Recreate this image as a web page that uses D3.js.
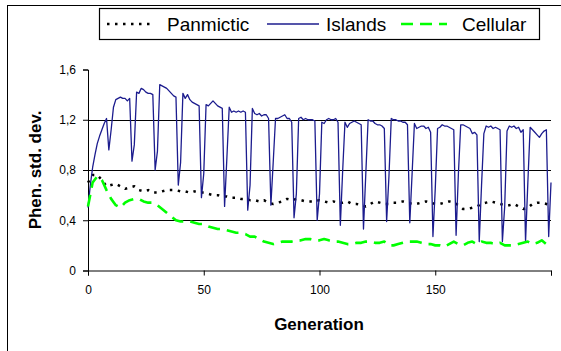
<!DOCTYPE html>
<html>
<head>
<meta charset="utf-8">
<script src="https://cdn.jsdelivr.net/npm/d3@7"></script>
<style>
  html, body { margin: 0; padding: 0; background: #fff; }
  svg { display: block; font-family: Arial, "Liberation Sans", sans-serif; }
</style>
</head>
<body>
<svg id="chart" width="561" height="351"></svg>
<script>
// Series names as shown in the legend
const seriesNames = ['Panmictic', 'Islands', 'Cellular'];

// Islands: one value per generation 0..200
const islandsValues = [
  0.50, 0.68, 0.82, 0.92, 1.01, 1.07, 1.12, 1.17, 1.21, 0.96,
  1.12, 1.30, 1.36, 1.37, 1.38, 1.37, 1.37, 1.35, 1.37, 0.87,
  1.00, 1.42, 1.41, 1.45, 1.44, 1.42, 1.41, 1.41, 1.40, 0.80,
  0.95, 1.48, 1.47, 1.46, 1.45, 1.43, 1.41, 1.39, 1.38, 0.68,
  0.86, 1.41, 1.37, 1.40, 1.36, 1.34, 1.33, 1.32, 1.31, 0.58,
  0.77, 1.32, 1.31, 1.33, 1.35, 1.33, 1.31, 1.30, 1.29, 0.51,
  0.90, 1.30, 1.26, 1.27, 1.26, 1.27, 1.26, 1.27, 1.26, 0.48,
  0.68, 1.29, 1.25, 1.24, 1.25, 1.23, 1.24, 1.24, 1.21, 0.52,
  0.86, 1.21, 1.21, 1.22, 1.23, 1.24, 1.21, 1.21, 1.18, 0.42,
  0.61, 1.21, 1.22, 1.20, 1.21, 1.20, 1.20, 1.20, 1.19, 0.40,
  0.61, 1.18, 1.17, 1.20, 1.21, 1.20, 1.20, 1.21, 1.18, 0.36,
  0.79, 1.18, 1.14, 1.17, 1.18, 1.19, 1.18, 1.17, 1.16, 0.33,
  0.77, 1.20, 1.19, 1.19, 1.17, 1.16, 1.16, 1.15, 1.13, 0.39,
  0.75, 1.21, 1.20, 1.20, 1.19, 1.19, 1.18, 1.18, 1.16, 0.38,
  0.77, 1.17, 1.13, 1.14, 1.15, 1.15, 1.13, 1.14, 1.10, 0.27,
  0.65, 1.13, 1.14, 1.16, 1.15, 1.15, 1.14, 1.13, 1.12, 0.28,
  0.77, 1.16, 1.16, 1.15, 1.14, 1.13, 1.09, 1.10, 1.08, 0.23,
  0.68, 1.09, 1.15, 1.14, 1.15, 1.13, 1.14, 1.13, 1.12, 0.23,
  0.51, 1.11, 1.15, 1.14, 1.15, 1.13, 1.14, 1.10, 1.12, 0.23,
  0.70, 1.14, 1.12, 1.10, 1.08, 1.06, 1.09, 1.11, 1.12, 0.27,
  0.70
];

// Panmictic and Cellular: read every second generation 0, 2, ..., 200
const panmicticValues = [
  0.70, 0.76, 0.76, 0.72, 0.67, 0.68, 0.69, 0.67, 0.65, 0.66,
  0.67, 0.64, 0.63, 0.64, 0.62, 0.62, 0.63, 0.64, 0.64, 0.64,
  0.63, 0.63, 0.62, 0.63, 0.62, 0.62, 0.61, 0.60, 0.60, 0.59,
  0.59, 0.58, 0.58, 0.57, 0.57, 0.56, 0.56, 0.55, 0.56, 0.54,
  0.53, 0.54, 0.55, 0.57, 0.56, 0.57, 0.56, 0.55, 0.55, 0.55,
  0.56, 0.55, 0.54, 0.55, 0.54, 0.54, 0.55, 0.53, 0.53, 0.52,
  0.51, 0.53, 0.55, 0.54, 0.53, 0.53, 0.54, 0.54, 0.55, 0.54,
  0.53, 0.53, 0.54, 0.55, 0.54, 0.53, 0.53, 0.54, 0.55, 0.54,
  0.52, 0.49, 0.49, 0.50, 0.51, 0.53, 0.54, 0.55, 0.54, 0.53,
  0.52, 0.52, 0.53, 0.51, 0.49, 0.50, 0.53, 0.54, 0.54, 0.53,
  0.52
];

const cellularValues = [
  0.51, 0.70, 0.75, 0.72, 0.64, 0.57, 0.52, 0.50, 0.54, 0.56,
  0.57, 0.57, 0.55, 0.54, 0.54, 0.52, 0.49, 0.46, 0.43, 0.40,
  0.39, 0.39, 0.39, 0.38, 0.37, 0.37, 0.35, 0.34, 0.33, 0.33,
  0.32, 0.31, 0.30, 0.30, 0.29, 0.27, 0.27, 0.25, 0.23, 0.22,
  0.21, 0.22, 0.23, 0.23, 0.23, 0.24, 0.24, 0.25, 0.25, 0.24,
  0.24, 0.25, 0.24, 0.23, 0.23, 0.22, 0.21, 0.21, 0.22, 0.22,
  0.23, 0.23, 0.22, 0.22, 0.23, 0.20, 0.20, 0.21, 0.22, 0.23,
  0.23, 0.23, 0.22, 0.21, 0.21, 0.20, 0.20, 0.19, 0.21, 0.23,
  0.21, 0.20, 0.22, 0.23, 0.21, 0.23, 0.22, 0.22, 0.21, 0.22,
  0.20, 0.20, 0.20, 0.21, 0.22, 0.23, 0.21, 0.22, 0.24, 0.21,
  0.24
];

const xTicks = [0, 50, 100, 150, 200];
const xTickLabels = ['0', '50', '100', '150', ''];
const yTicks = [0, 0.4, 0.8, 1.2, 1.6];
const yTickLabels = ['0', '0,4', '0,8', '1,2', '1,6'];
const gridValues = [0.4, 0.8, 1.2];

const svg = d3.select('#chart');

// outer chart frame (runs off the right and bottom edges like the source)
svg.append('rect')
  .attr('x', 7.5).attr('y', 5.5)
  .attr('width', 600).attr('height', 400)
  .attr('fill', 'none').attr('stroke', '#000').attr('stroke-width', 1);

const plot = { left: 88, right: 551, top: 69.5, bottom: 270.5 };

const x = d3.scaleLinear().domain([0, 200]).range([plot.left, plot.right]);
const y = d3.scaleLinear().domain([0, 1.6]).range([plot.bottom, plot.top]);

// gridlines
svg.append('g')
  .selectAll('line')
  .data(gridValues)
  .join('line')
  .attr('x1', plot.left).attr('x2', plot.right)
  .attr('y1', (d) => Math.round(y(d)) + 0.5)
  .attr('y2', (d) => Math.round(y(d)) + 0.5)
  .attr('stroke', '#000').attr('stroke-width', 1);

// axes
const xAxis = d3.axisBottom(x)
  .tickValues(xTicks)
  .tickSize(5)
  .tickPadding(10)
  .tickFormat((d, i) => xTickLabels[i]);
const gx = svg.append('g')
  .attr('transform', `translate(0, ${plot.bottom})`)
  .call(xAxis);

const yAxis = d3.axisLeft(y)
  .tickValues(yTicks)
  .tickSize(5)
  .tickPadding(7)
  .tickFormat((d, i) => yTickLabels[i]);
const gy = svg.append('g')
  .attr('transform', `translate(${plot.left}, 0)`)
  .call(yAxis);

[gx, gy].forEach((g) => {
  g.select('.domain').attr('stroke', '#000');
  g.selectAll('.tick line').attr('stroke', '#000');
  g.selectAll('.tick text')
    .attr('fill', '#000')
    .style('font-size', '12px')
    .style('font-family', 'Arial, "Liberation Sans", sans-serif');
});

// series lines
const step2 = (vals) => vals.map((v, i) => [i * 2, v]);
const step1 = (vals) => vals.map((v, i) => [i, v]);
const line = d3.line().x((d) => x(d[0])).y((d) => y(d[1]));

const series = [
  { name: seriesNames[0], pts: step2(panmicticValues), color: '#000', width: 2.5, dash: '2.5,5.5' },
  { name: seriesNames[1], pts: step1(islandsValues), color: '#1c1c8e', width: 1.3, dash: null },
  { name: seriesNames[2], pts: step2(cellularValues), color: '#00ff00', width: 2.6, dash: '12,7' }
];

series.forEach((s) => {
  svg.append('path')
    .datum(s.pts)
    .attr('d', line)
    .attr('fill', 'none')
    .attr('stroke', s.color)
    .attr('stroke-width', s.width)
    .attr('stroke-dasharray', s.dash)
    .attr('stroke-linejoin', 'round');
});

// axis titles
svg.append('text')
  .attr('transform', 'translate(41, 170) rotate(-90)')
  .attr('text-anchor', 'middle')
  .style('font-size', '17px')
  .style('font-weight', 'bold')
  .text('Phen. std. dev.');

svg.append('text')
  .attr('x', 319).attr('y', 330)
  .attr('text-anchor', 'middle')
  .style('font-size', '17px')
  .style('font-weight', 'bold')
  .text('Generation');

// legend
const legend = svg.append('g');
legend.append('rect')
  .attr('x', 99.5).attr('y', 8.5)
  .attr('width', 440).attr('height', 31)
  .attr('fill', '#fff').attr('stroke', '#000').attr('stroke-width', 1.2);

const legendItems = [
  { x1: 107, x2: 154, tx: 167 },
  { x1: 267, x2: 319, tx: 326 },
  { x1: 401, x2: 447, tx: 462 }
];
legendItems.forEach((it, i) => {
  const s = series[i];
  legend.append('line')
    .attr('x1', it.x1).attr('x2', it.x2)
    .attr('y1', 24).attr('y2', 24)
    .attr('stroke', s.color)
    .attr('stroke-width', s.width)
    .attr('stroke-dasharray', s.dash);
  legend.append('text')
    .attr('x', it.tx).attr('y', 30.5)
    .style('font-size', '19px')
    .text(s.name);
});
</script>
</body>
</html>
